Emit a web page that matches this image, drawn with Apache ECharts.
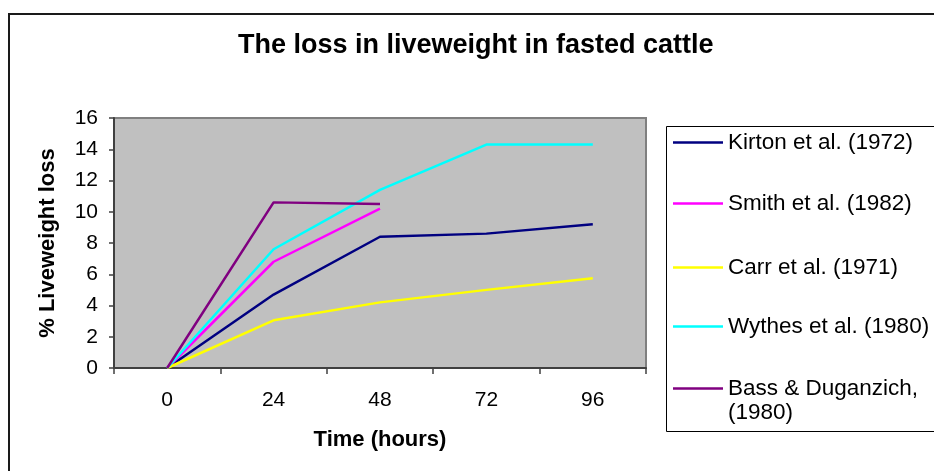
<!DOCTYPE html>
<html>
<head>
<meta charset="utf-8">
<script src="https://cdn.jsdelivr.net/npm/echarts@6/dist/echarts.min.js"></script>
<style>
  html, body { margin: 0; padding: 0; background: #fff; }
  #chart { width: 934px; height: 471px; }
</style>
</head>
<body>
<div id="chart"></div>
<script>
const categories = ['0', '24', '48', '72', '96'];
const kirton = [0, 4.7, 8.4, 8.6, 9.2];
const smith = [0, 6.8, 10.2, null, null];
const carr = [0, 3.05, 4.2, 5.0, 5.75];
const wythes = [0, 7.6, 11.4, 14.3, 14.3];
const bass = [0, 10.6, 10.5, null, null];
const seriesNames = ['Kirton et al. (1972)', 'Smith et al. (1982)', 'Carr et al. (1971)', 'Wythes et al. (1980)', 'Bass & Duganzich, (1980)'];
const seriesColors = ['#000080', '#FF00FF', '#FFFF00', '#00FFFF', '#800080'];
const seriesData = [kirton, smith, carr, wythes, bass];
const yTicks = { min: 0, max: 16, interval: 2 };

const FONT = 'Arial, "Liberation Sans", sans-serif';
const chart = echarts.init(document.getElementById('chart'), null, { renderer: 'canvas' });

const legendTops = [143, 204, 268, 327, 389];
const legends = seriesNames.map((n, i) => ({
  data: [n],
  left: 673,
  top: legendTops[i] - 12,
  padding: 0,
  icon: 'rect',
  itemWidth: 50,
  itemHeight: 2.5,
  selectedMode: false,
  formatter: (name) => name === 'Bass & Duganzich, (1980)' ? 'Bass & Duganzich,' : name,
  textStyle: { fontFamily: FONT, fontSize: 22.5, color: '#000', padding: [0, 0, 0, 0] }
}));

const option = {
  animation: false,
  backgroundColor: '#fff',
  title: {
    text: 'The loss in liveweight in fasted cattle',
    left: 238,
    top: 32,
    padding: 0,
    textStyle: { fontFamily: FONT, fontSize: 27, fontWeight: 'bold', color: '#000' }
  },
  graphic: [
    { type: 'rect', shape: { x: 9, y: 14, width: 940, height: 470 }, style: { fill: 'none', stroke: '#1a1a1a', lineWidth: 2 }, z: 0, silent: true },
    { type: 'rect', shape: { x: 666.5, y: 126.5, width: 300, height: 305 }, style: { fill: '#fff', stroke: '#000', lineWidth: 1 }, z: 0, silent: true },
    { type: 'text', x: 728, y: 413, style: { text: '(1980)', font: '22.5px ' + FONT, fill: '#000', textVerticalAlign: 'middle' }, z: 10, silent: true }
  ],
  legend: legends,
  grid: {
    left: 114, top: 118, width: 532, height: 250,
    show: true, backgroundColor: '#C0C0C0', borderColor: '#808080', borderWidth: 2
  },
  xAxis: {
    type: 'category',
    data: categories,
    boundaryGap: true,
    name: 'Time (hours)',
    nameLocation: 'middle',
    nameGap: 61,
    nameTextStyle: { fontFamily: FONT, fontSize: 22, fontWeight: 'bold', color: '#000', verticalAlign: 'top' },
    axisLine: { show: true, lineStyle: { color: '#404040', width: 2 } },
    axisTick: { show: true, inside: false, length: 6, alignWithLabel: false, lineStyle: { color: '#404040', width: 1.5 } },
    axisLabel: { fontFamily: FONT, fontSize: 21, color: '#000', margin: 22 },
    splitLine: { show: false }
  },
  yAxis: {
    type: 'value',
    min: yTicks.min, max: yTicks.max, interval: yTicks.interval,
    name: '% Liveweight loss',
    nameLocation: 'middle',
    nameGap: 55,
    nameRotate: 90,
    nameTextStyle: { fontFamily: FONT, fontSize: 22, fontWeight: 'bold', color: '#000' },
    axisLine: { show: true, lineStyle: { color: '#404040', width: 2 } },
    axisTick: { show: true, inside: false, length: 5, lineStyle: { color: '#404040', width: 1.5 } },
    axisLabel: { fontFamily: FONT, fontSize: 21, color: '#000', margin: 16 },
    splitLine: { show: false }
  },
  series: seriesNames.map((n, i) => ({
    name: n,
    type: 'line',
    data: seriesData[i],
    color: seriesColors[i],
    showSymbol: false,
    symbol: 'none',
    connectNulls: false,
    lineStyle: { width: 2.5, color: seriesColors[i] },
    itemStyle: { color: seriesColors[i] },
    z: 3 + i
  }))
};
chart.setOption(option);
</script>
</body>
</html>
